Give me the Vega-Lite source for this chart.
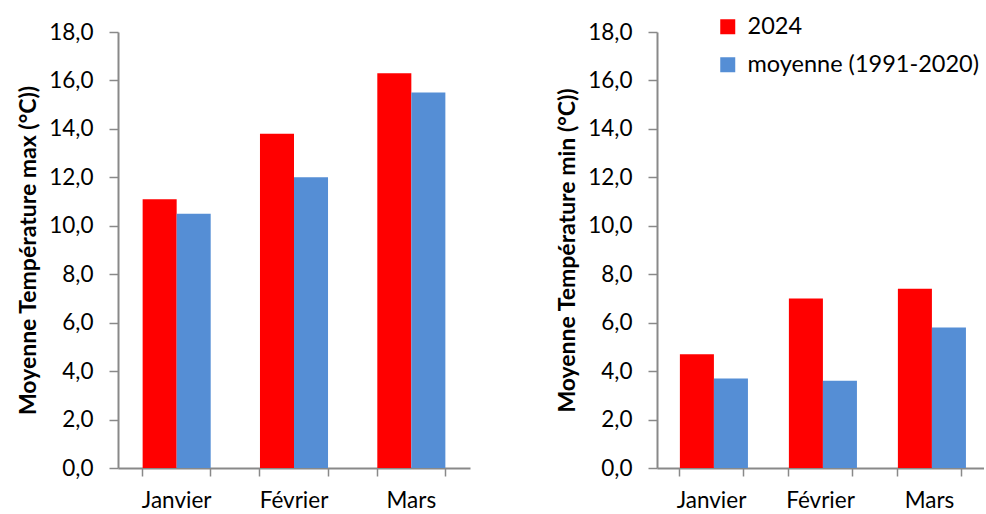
{
  "$schema": "https://vega.github.io/schema/vega-lite/v6.json",
  "autosize": {"type": "pad"},
  "padding": {"left": 17, "top": 15, "right": 0, "bottom": 0},
  "background": "white",
  "bounds": "flush",
  "spacing": 187,
  "datasets": {
    "tmax": [
      {"mois": "Janvier", "serie": "2024", "valeur": 11.1},
      {"mois": "Janvier", "serie": "moyenne (1991-2020)", "valeur": 10.5},
      {"mois": "Février", "serie": "2024", "valeur": 13.8},
      {"mois": "Février", "serie": "moyenne (1991-2020)", "valeur": 12.0},
      {"mois": "Mars", "serie": "2024", "valeur": 16.3},
      {"mois": "Mars", "serie": "moyenne (1991-2020)", "valeur": 15.5}
    ],
    "tmin": [
      {"mois": "Janvier", "serie": "2024", "valeur": 4.7},
      {"mois": "Janvier", "serie": "moyenne (1991-2020)", "valeur": 3.7},
      {"mois": "Février", "serie": "2024", "valeur": 7.0},
      {"mois": "Février", "serie": "moyenne (1991-2020)", "valeur": 3.6},
      {"mois": "Mars", "serie": "2024", "valeur": 7.4},
      {"mois": "Mars", "serie": "moyenne (1991-2020)", "valeur": 5.8}
    ]
  },
  "hconcat": [
    {
      "width": 352,
      "height": 436,
      "data": {"name": "tmax"},
      "layer": [
        {
          "mark": {"type": "bar"},
          "encoding": {
            "x": {
              "field": "mois", "type": "nominal",
              "sort": ["Janvier", "Février", "Mars"],
              "scale": {"paddingInner": 0.42, "paddingOuter": 0.21},
              "axis": {"title": null, "labelAngle": 0, "bandPosition": 0, "orient": "bottom"}
            },
            "xOffset": {"field": "serie", "sort": ["2024", "moyenne (1991-2020)"]},
            "y": {
              "field": "valeur", "type": "quantitative",
              "scale": {"domain": [0, 18]},
              "axis": {"title": "Moyenne Température max (°C))", "values": [0, 2, 4, 6, 8, 10, 12, 14, 16, 18]}
            },
            "color": {
              "field": "serie",
              "scale": {"domain": ["2024", "moyenne (1991-2020)"], "range": ["#FF0000", "#558ED5"]},
              "legend": null
            }
          }
        },
        {
          "mark": {"type": "point", "opacity": 0},
          "encoding": {
            "x": {
              "field": "mois", "type": "nominal",
              "sort": ["Janvier", "Février", "Mars"],
              "axis": {"title": null, "labels": false, "domain": false, "bandPosition": 1, "orient": "bottom"}
            }
          }
        }
      ],
      "resolve": {"axis": {"x": "independent"}}
    },
    {
      "width": 327,
      "height": 436,
      "data": {"name": "tmin"},
      "layer": [
        {
          "mark": {"type": "bar"},
          "encoding": {
            "x": {
              "field": "mois", "type": "nominal",
              "sort": ["Janvier", "Février", "Mars"],
              "scale": {"paddingInner": 0.42, "paddingOuter": 0.21},
              "axis": {"title": null, "labelAngle": 0, "bandPosition": 0, "orient": "bottom"}
            },
            "xOffset": {"field": "serie", "sort": ["2024", "moyenne (1991-2020)"]},
            "y": {
              "field": "valeur", "type": "quantitative",
              "scale": {"domain": [0, 18]},
              "axis": {"title": "Moyenne Température min (°C))", "values": [0, 2, 4, 6, 8, 10, 12, 14, 16, 18]}
            },
            "color": {
              "field": "serie",
              "scale": {"domain": ["2024", "moyenne (1991-2020)"], "range": ["#FF0000", "#558ED5"]},
              "legend": {
                "title": null,
                "orient": "none",
                "legendX": 59,
                "legendY": -17,
                "symbolType": "square",
                "symbolSize": 225,
                "symbolStrokeWidth": 0,
                "labelFontSize": 23.5,
                "labelFont": "Lato",
                "labelColor": "#000000",
                "labelOffset": 8,
                "labelLimit": 400,
                "rowPadding": 13
              }
            }
          }
        },
        {
          "mark": {"type": "point", "opacity": 0},
          "encoding": {
            "x": {
              "field": "mois", "type": "nominal",
              "sort": ["Janvier", "Février", "Mars"],
              "axis": {"title": null, "labels": false, "domain": false, "bandPosition": 1, "orient": "bottom"}
            }
          }
        }
      ],
      "resolve": {"axis": {"x": "independent"}}
    }
  ],
  "resolve": {"scale": {"color": "independent"}},
  "config": {
    "view": {"stroke": null},
    "font": "Lato",
    "axis": {
      "grid": false,
      "domainColor": "#898989",
      "domainWidth": 2,
      "tickColor": "#898989",
      "tickWidth": 1.5,
      "labelFont": "Lato",
      "labelColor": "#000000",
      "titleFont": "Lato",
      "titleColor": "#000000"
    },
    "axisX": {"tickSize": 8, "labelPadding": 13, "labelFontSize": 22.5},
    "axisY": {
      "tickSize": 9,
      "labelPadding": 16,
      "labelFontSize": 22.5,
      "labelExpr": "replace(format(datum.value, '.1f'), '.', ',')",
      "titleFontSize": 23,
      "titleFontWeight": "bold",
      "titlePadding": 8
    }
  }
}
